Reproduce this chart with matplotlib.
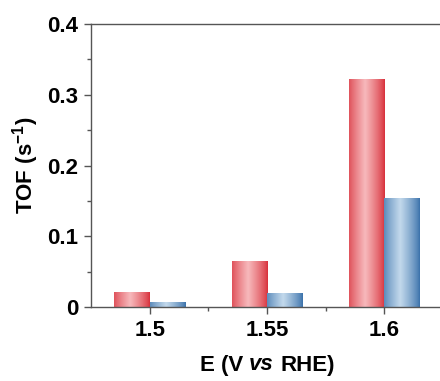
import numpy as np
import matplotlib
matplotlib.use('Agg')
import matplotlib.pyplot as plt
from matplotlib.colors import to_rgb
from matplotlib.ticker import MultipleLocator, FixedLocator
from matplotlib.offsetbox import TextArea, HPacker, AnnotationBbox

plt.rcParams['font.family'] = ['Liberation Sans', 'DejaVu Sans']
plt.rcParams['font.weight'] = 'bold'
plt.rcParams['mathtext.fontset'] = 'custom'
plt.rcParams['mathtext.rm'] = 'Liberation Sans:bold'
plt.rcParams['mathtext.bf'] = 'Liberation Sans:bold'

# data
potentials = ['1.5', '1.55', '1.6']
tof_red = [0.021, 0.065, 0.321]
tof_blue = [0.006, 0.019, 0.153]

red_edge, red_mid = '#d8303b', '#f7b9bc'
blue_edge, blue_mid = '#3b72ab', '#c3d9ec'


def gradient_bar(ax, x0, width, h, edge, mid):
    # horizontal shading: dark edges, light centre
    t = np.linspace(0, 1, 64)
    w = np.clip(1 - np.abs(t - 0.45) / 0.55, 0, 1) ** 0.8
    e = np.array(to_rgb(edge))
    m = np.array(to_rgb(mid))
    img = (e[None, :] * (1 - w[:, None]) + m[None, :] * w[:, None])[None, :, :]
    ax.imshow(img, extent=(x0, x0 + width, 0, h), aspect='auto',
              interpolation='bilinear', zorder=2)


fig = plt.figure(figsize=(4.4, 3.81), dpi=100)
ax = fig.add_axes([91 / 440, (381 - 307) / 381, 352 / 440, 283 / 381])

bw = 0.3
xs = np.arange(len(potentials))
for i in xs:
    gradient_bar(ax, i - bw, bw, tof_red[i], red_edge, red_mid)
    gradient_bar(ax, i, bw, tof_blue[i], blue_edge, blue_mid)

ax.set_xlim(-0.5, 2.5)
ax.set_ylim(0, 0.4)
ax.set_xticks(xs)
ax.set_xticklabels(potentials)
ax.xaxis.set_minor_locator(FixedLocator([0.5, 1.5]))
ax.set_yticks([0, 0.1, 0.2, 0.3, 0.4])
ax.set_yticklabels(['0', '0.1', '0.2', '0.3', '0.4'])
ax.yaxis.set_minor_locator(MultipleLocator(0.05))

for s in ax.spines.values():
    s.set_color('#555555')
    s.set_linewidth(1.0)
ax.tick_params(which='major', direction='out', length=5, width=1,
               color='#555555', labelsize=16, pad=4)
ax.tick_params(which='minor', direction='out', length=3, width=1,
               color='#555555')

# x label with italic "vs"
tp = dict(fontsize=16, fontweight='bold', color='black')
parts = [TextArea('E (V', textprops=tp),
         TextArea('vs', textprops=dict(tp, style='italic')),
         TextArea('RHE)', textprops=tp)]
xlab = HPacker(children=parts, sep=4.5, pad=0, align='baseline')
ab = AnnotationBbox(xlab, (267 / 440, 1 - 365 / 381), xycoords='figure fraction',
                    frameon=False, box_alignment=(0.5, 0.5), pad=0)
fig.add_artist(ab)

ax.set_ylabel(r'TOF (s$^{-1}$)', fontsize=16, fontweight='bold',
              labelpad=5)

fig.savefig('out.png', dpi=100)
